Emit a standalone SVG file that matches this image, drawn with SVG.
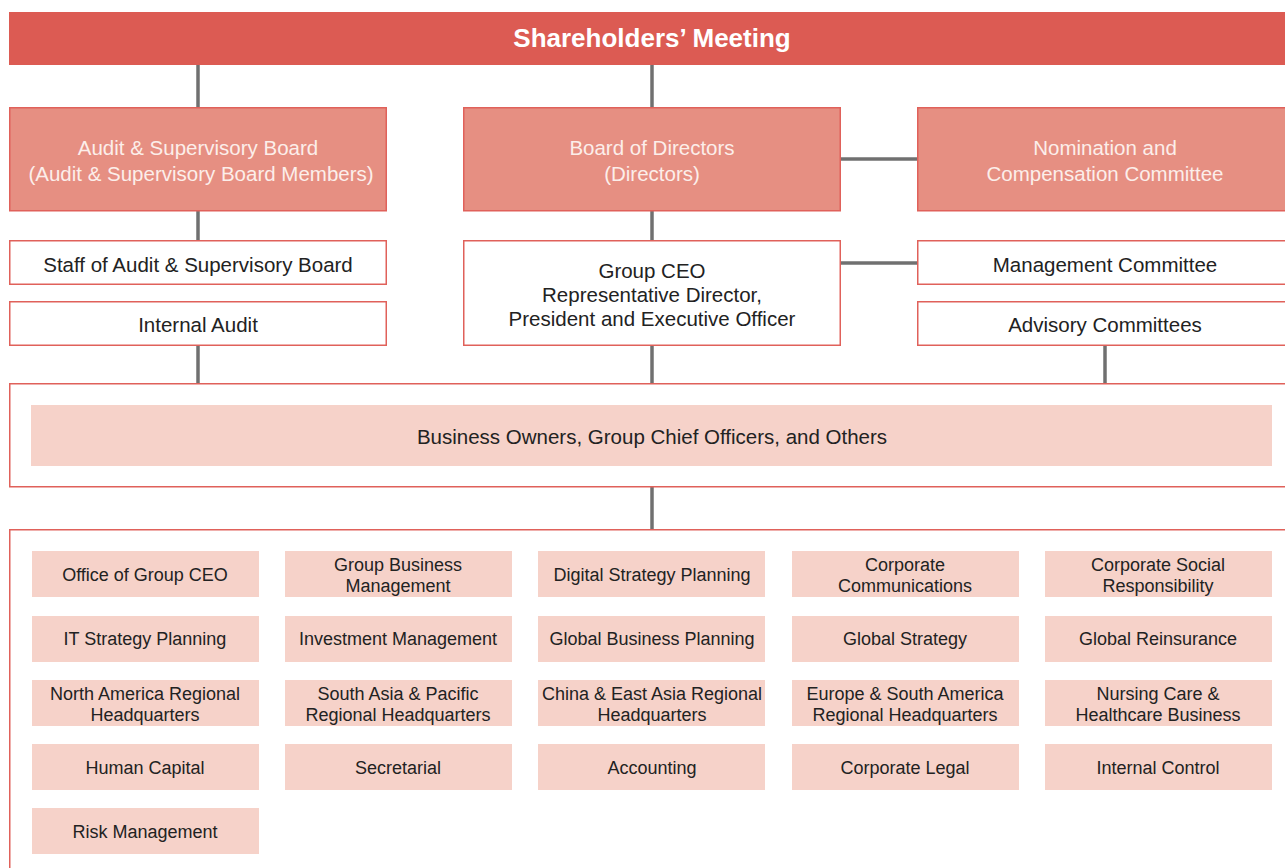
<svg xmlns="http://www.w3.org/2000/svg" width="1285" height="868" viewBox="0 0 1285 868">
<style>
text{font-family:"Liberation Sans",Arial,sans-serif;text-anchor:middle;}
.top{fill:#DC5B53;}
.red{fill:#E68F82;stroke:#E0615A;stroke-width:1.5;}
.wht{fill:#FFFFFF;stroke:#E0615A;stroke-width:1.5;}
.pink{fill:#F6D2C9;}
.tw{fill:#FCEEEA;font-size:20.5px;}
.tb{fill:#222222;font-size:20.5px;}
.tc{fill:#222222;font-size:18px;}
.con{stroke:#707070;stroke-width:3.5;fill:none;}
</style>
<g id="connectors">
<line class="con" x1="198" y1="65" x2="198" y2="107"/>
<line class="con" x1="652" y1="65" x2="652" y2="107"/>
<line class="con" x1="840" y1="159" x2="917" y2="159"/>
<line class="con" x1="198" y1="211" x2="198" y2="240"/>
<line class="con" x1="652" y1="211" x2="652" y2="240"/>
<line class="con" x1="840" y1="263" x2="917" y2="263"/>
<line class="con" x1="198" y1="345" x2="198" y2="383"/>
<line class="con" x1="652" y1="345" x2="652" y2="383"/>
<line class="con" x1="1105" y1="345" x2="1105" y2="383"/>
<line class="con" x1="652" y1="487" x2="652" y2="529"/>
</g>
<g id="shareholders">
<rect class="top" x="9" y="12" width="1280" height="53"/>
<text x="652" y="47" style="fill:#FFFFFF;font-size:26px;font-weight:bold;">Shareholders’ Meeting</text>
</g>
<g id="audit-board">
<rect class="red" x="9.75" y="107.75" width="376.5" height="103"/>
<text class="tw" x="198" y="155">Audit &amp; Supervisory Board</text>
<text class="tw" x="201" y="181">(Audit &amp; Supervisory Board Members)</text>
</g>
<g id="board-directors">
<rect class="red" x="463.75" y="107.75" width="376.5" height="103"/>
<text class="tw" x="652" y="155">Board of Directors</text>
<text class="tw" x="652" y="181">(Directors)</text>
</g>
<g id="nomination">
<rect class="red" x="917.75" y="107.75" width="380" height="103"/>
<text class="tw" x="1105" y="155">Nomination and</text>
<text class="tw" x="1105" y="181">Compensation Committee</text>
</g>
<g id="staff-audit">
<rect class="wht" x="9.75" y="240.75" width="376.5" height="43.5"/>
<text class="tb" x="198" y="272">Staff of Audit &amp; Supervisory Board</text>
</g>
<g id="internal-audit">
<rect class="wht" x="9.75" y="301.75" width="376.5" height="43.5"/>
<text class="tb" x="198" y="332">Internal Audit</text>
</g>
<g id="group-ceo">
<rect class="wht" x="463.75" y="240.75" width="376.5" height="104.5"/>
<text class="tb" x="652" y="278">Group CEO</text>
<text class="tb" x="652" y="302">Representative Director,</text>
<text class="tb" x="652" y="326">President and Executive Officer</text>
</g>
<g id="management-committee">
<rect class="wht" x="917.75" y="240.75" width="380" height="43.5"/>
<text class="tb" x="1105" y="272">Management Committee</text>
</g>
<g id="advisory-committees">
<rect class="wht" x="917.75" y="301.75" width="380" height="43.5"/>
<text class="tb" x="1105" y="332">Advisory Committees</text>
</g>
<g id="business-owners">
<rect class="wht" x="9.75" y="383.75" width="1290" height="103"/>
<rect class="pink" x="31" y="405" width="1241" height="61"/>
<text class="tb" x="652" y="444">Business Owners, Group Chief Officers, and Others</text>
</g>
<g id="departments">
<rect class="wht" x="9.75" y="529.75" width="1290" height="350"/>
</g>
<g id="office-group-ceo"><rect class="pink" x="32" y="551" width="227" height="46"/><text class="tc" x="145" y="581">Office of Group CEO</text></g>
<g id="group-business-management"><rect class="pink" x="285" y="551" width="227" height="46"/><text class="tc" x="398" y="571">Group Business</text><text class="tc" x="398" y="592">Management</text></g>
<g id="digital-strategy"><rect class="pink" x="538" y="551" width="227" height="46"/><text class="tc" x="652" y="581">Digital Strategy Planning</text></g>
<g id="corporate-communications"><rect class="pink" x="792" y="551" width="227" height="46"/><text class="tc" x="905" y="571">Corporate</text><text class="tc" x="905" y="592">Communications</text></g>
<g id="csr"><rect class="pink" x="1045" y="551" width="227" height="46"/><text class="tc" x="1158" y="571">Corporate Social</text><text class="tc" x="1158" y="592">Responsibility</text></g>
<g id="it-strategy"><rect class="pink" x="32" y="616" width="227" height="46"/><text class="tc" x="145" y="645">IT Strategy Planning</text></g>
<g id="investment-management"><rect class="pink" x="285" y="616" width="227" height="46"/><text class="tc" x="398" y="645">Investment Management</text></g>
<g id="global-business-planning"><rect class="pink" x="538" y="616" width="227" height="46"/><text class="tc" x="652" y="645">Global Business Planning</text></g>
<g id="global-strategy"><rect class="pink" x="792" y="616" width="227" height="46"/><text class="tc" x="905" y="645">Global Strategy</text></g>
<g id="global-reinsurance"><rect class="pink" x="1045" y="616" width="227" height="46"/><text class="tc" x="1158" y="645">Global Reinsurance</text></g>
<g id="north-america"><rect class="pink" x="32" y="680" width="227" height="46"/><text class="tc" x="145" y="700">North America Regional</text><text class="tc" x="145" y="721">Headquarters</text></g>
<g id="south-asia"><rect class="pink" x="285" y="680" width="227" height="46"/><text class="tc" x="398" y="700">South Asia &amp; Pacific</text><text class="tc" x="398" y="721">Regional Headquarters</text></g>
<g id="china-east-asia"><rect class="pink" x="538" y="680" width="227" height="46"/><text class="tc" x="652" y="700">China &amp; East Asia Regional</text><text class="tc" x="652" y="721">Headquarters</text></g>
<g id="europe-south-america"><rect class="pink" x="792" y="680" width="227" height="46"/><text class="tc" x="905" y="700">Europe &amp; South America</text><text class="tc" x="905" y="721">Regional Headquarters</text></g>
<g id="nursing-care"><rect class="pink" x="1045" y="680" width="227" height="46"/><text class="tc" x="1158" y="700">Nursing Care &amp;</text><text class="tc" x="1158" y="721">Healthcare Business</text></g>
<g id="human-capital"><rect class="pink" x="32" y="744" width="227" height="46"/><text class="tc" x="145" y="774">Human Capital</text></g>
<g id="secretarial"><rect class="pink" x="285" y="744" width="227" height="46"/><text class="tc" x="398" y="774">Secretarial</text></g>
<g id="accounting"><rect class="pink" x="538" y="744" width="227" height="46"/><text class="tc" x="652" y="774">Accounting</text></g>
<g id="corporate-legal"><rect class="pink" x="792" y="744" width="227" height="46"/><text class="tc" x="905" y="774">Corporate Legal</text></g>
<g id="internal-control"><rect class="pink" x="1045" y="744" width="227" height="46"/><text class="tc" x="1158" y="774">Internal Control</text></g>
<g id="risk-management"><rect class="pink" x="32" y="808" width="227" height="46"/><text class="tc" x="145" y="838">Risk Management</text></g>
</svg>
